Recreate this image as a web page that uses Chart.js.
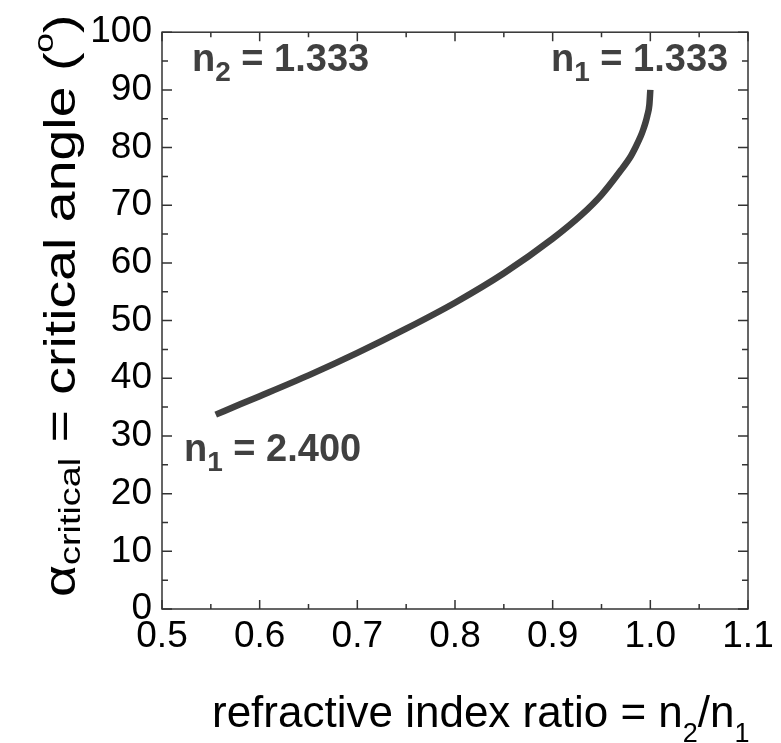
<!DOCTYPE html>
<html>
<head>
<meta charset="utf-8">
<script src="https://cdn.jsdelivr.net/npm/chart.js@4"></script>
<style>
  html, body { margin: 0; padding: 0; background: #fff; }
  #wrap { width: 781px; height: 743px; }
</style>
</head>
<body>
<div id="wrap"><canvas id="angleChart" width="781" height="743"></canvas></div>
<script>
// valeurs (rapport n2/n1 -> angle critique en degrés)
const ratio = [0.555, 0.58, 0.6, 0.65, 0.7, 0.75, 0.8, 0.85, 0.9, 0.93, 0.95, 0.97, 0.98, 0.985, 0.99, 0.9925, 0.995, 0.997, 0.999, 1.0];
const angle = [33.7, 35.5, 36.9, 40.5, 44.4, 48.6, 53.1, 58.2, 64.2, 68.4, 71.8, 76.1, 78.5, 80.1, 81.9, 83.0, 84.3, 85.6, 87.4, 90.0];
const xTicks = [0.5, 0.6, 0.7, 0.8, 0.9, 1.0, 1.1];
const yTicks = [0, 10, 20, 30, 40, 50, 60, 70, 80, 90, 100];

const FONT = '"Liberation Sans", Arial, sans-serif';
const INK = '#404040';

// cadre, graduations intérieures, titres et annotations
const decor = {
    id: 'decor',
    afterDraw(chart) {
        const c = chart.ctx;
        const a = chart.chartArea;
        const sx = chart.scales.x, sy = chart.scales.y;
        c.save();
        c.strokeStyle = '#333';
        c.lineWidth = 1.5;
        c.strokeRect(a.left, a.top, a.right - a.left, a.bottom - a.top);
        c.beginPath();
        for (let i = 0; i < xTicks.length; i++) {
            const v = xTicks[i];
            const p = sx.getPixelForValue(v);
            c.moveTo(p, a.bottom); c.lineTo(p, a.bottom - 9);
            c.moveTo(p, a.top); c.lineTo(p, a.top + 9);
            if (i < xTicks.length - 1) {
                const m = sx.getPixelForValue(v + 0.05);
                c.moveTo(m, a.bottom); c.lineTo(m, a.bottom - 5);
                c.moveTo(m, a.top); c.lineTo(m, a.top + 5);
            }
        }
        for (let i = 0; i < yTicks.length; i++) {
            const v = yTicks[i];
            const p = sy.getPixelForValue(v);
            c.moveTo(a.left, p); c.lineTo(a.left + 10, p);
            c.moveTo(a.right, p); c.lineTo(a.right - 10, p);
            if (i < yTicks.length - 1) {
                const m = sy.getPixelForValue(v + 5);
                c.moveTo(a.left, m); c.lineTo(a.left + 6, m);
                c.moveTo(a.right, m); c.lineTo(a.right - 6, m);
            }
        }
        c.stroke();

        // texte avec indices
        function runs(parts, x, y) {
            let cx = x;
            for (const p of parts) {
                c.font = p.font;
                c.fillText(p.t, cx, y + (p.dy || 0));
                cx += c.measureText(p.t).width;
            }
        }

        c.fillStyle = INK;
        c.textBaseline = 'alphabetic';
        c.textAlign = 'left';
        const B = 'bold 38px ' + FONT, Bs = 'bold 28px ' + FONT;
        runs([{t: 'n', font: B}, {t: '2', font: Bs, dy: 10}, {t: ' = 1.333', font: B}], 192, 71);
        runs([{t: 'n', font: B}, {t: '1', font: Bs, dy: 10}, {t: ' = 1.333', font: B}], 551, 71);
        runs([{t: 'n', font: B}, {t: '1', font: Bs, dy: 10}, {t: ' = 2.400', font: B}], 184, 461);

        c.fillStyle = '#000';
        const T = '44px ' + FONT, Ts = '27px ' + FONT;
        runs([{t: 'refractive index ratio = n', font: T}, {t: '2', font: Ts, dy: 15},
              {t: '/n', font: T}, {t: '1', font: Ts, dy: 15}], 212, 727);

        // titre vertical, un peu étiré dans le sens du texte comme l'original
        c.translate(75, 597);
        c.rotate(-Math.PI / 2);
        c.scale(1.26, 1);
        runs([{t: 'α', font: T}, {t: 'critical', font: '30px ' + FONT, dy: 5},
              {t: ' = critical angle (', font: T}, {t: 'o', font: '28px ' + FONT, dy: -22},
              {t: ')', font: T}], 0, 0);
        c.restore();
    }
};

new Chart(document.getElementById('angleChart'), {
    type: 'line',
    data: {
        datasets: [{
            data: ratio.map((r, i) => ({x: r, y: angle[i]})),
            borderColor: INK,
            borderWidth: 6.5,
            pointRadius: 0,
            fill: false,
            cubicInterpolationMode: 'monotone'
        }]
    },
    options: {
        responsive: false,
        animation: false,
        layout: { padding: { top: 24, right: 33, left: 0, bottom: 0 } },
        plugins: { legend: { display: false }, tooltip: { enabled: false } },
        scales: {
            x: {
                type: 'linear',
                min: 0.5, max: 1.1,
                afterBuildTicks: s => { s.ticks = xTicks.map(v => ({value: v})); },
                afterFit: s => { s.height = 134; },
                grid: { display: false, drawTicks: false },
                border: { display: false },
                ticks: {
                    color: '#000',
                    font: { family: FONT, size: 37 },
                    padding: 6,
                    maxRotation: 0,
                    callback: v => Number(v).toFixed(1)
                }
            },
            y: {
                min: 0, max: 100,
                afterBuildTicks: s => { s.ticks = yTicks.map(v => ({value: v})); },
                afterFit: s => { s.width = 162; },
                grid: { display: false, drawTicks: false },
                border: { display: false },
                ticks: {
                    color: '#000',
                    font: { family: FONT, size: 37 },
                    padding: 10
                }
            }
        }
    },
    plugins: [decor]
});
</script>
</body>
</html>
